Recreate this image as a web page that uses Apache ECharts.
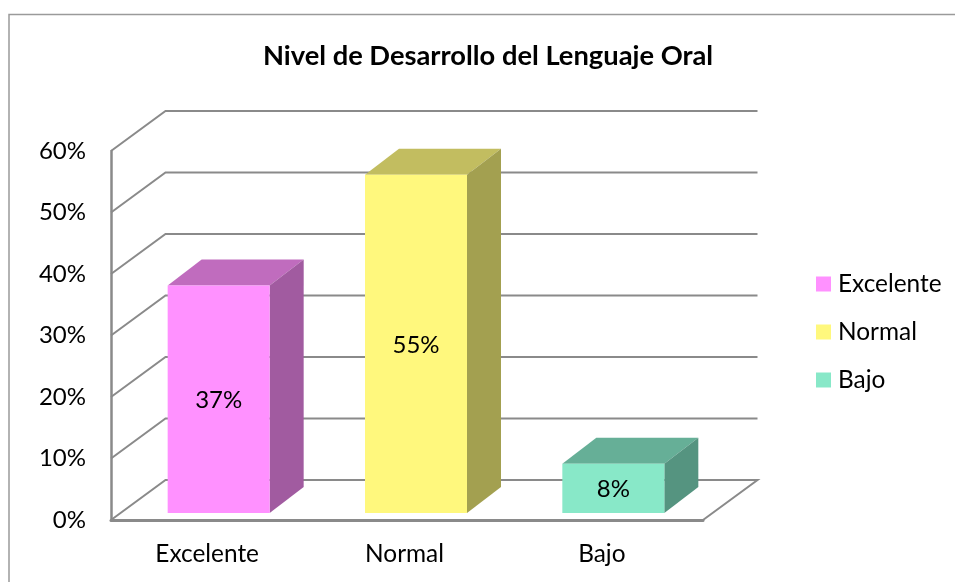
<!DOCTYPE html>
<html>
<head>
<meta charset="utf-8">
<style>html,body{margin:0;padding:0;background:#fff}#main{width:955px;height:582px}</style>
<script src="https://cdn.jsdelivr.net/npm/echarts@6/dist/echarts.min.js"></script>
</head>
<body>
<div id="main"></div>
<script>
var categories = ['Excelente', 'Normal', 'Bajo'];
var values = [37, 55, 8];
var yTicks = [0, 10, 20, 30, 40, 50, 60];

// front, top, side colours for each bar
var frontColors = ['#FF91FF', '#FFF87D', '#88E8C8'];
var topColors = ['#C06CBE', '#C2BD60', '#66AF97'];
var sideColors = ['#A15BA0', '#A3A050', '#559480'];

var FONT = 'Lato';
var LINE = '#8A8A8A';
// depth of the wall and the bars, in pixels
var WALL = [54.5, -40];
var BAR_SIDE = [34, -26];
var BAR_SHIFT = [9, -7];
var BAR_WIDTH = 102;

function renderWall(params, api) {
	var rect = params.coordSys;
	var y = api.coord([0, api.value(0)])[1];
	var x0 = rect.x, x1 = rect.x + rect.width;
	var pts = [[x0, y], [x0 + WALL[0], y + WALL[1]], [x1 + WALL[0], y + WALL[1]]];
	if (api.value(0) === 0) {
		pts.push([x1, y]);
	}
	return {
		type: 'polyline',
		shape: {points: pts},
		style: {stroke: LINE, lineWidth: 2, fill: null}
	};
}

function renderBar(params, api) {
	var idx = api.value(0);
	var top = api.coord([idx, api.value(1)]);
	var base = api.coord([idx, 0]);
	var xl = base[0] - BAR_WIDTH / 2 + BAR_SHIFT[0];
	var xr = xl + BAR_WIDTH;
	var yt = top[1] + BAR_SHIFT[1];
	var yb = base[1] + BAR_SHIFT[1];
	var dx = BAR_SIDE[0], dy = BAR_SIDE[1];
	return {
		type: 'group',
		children: [{
			type: 'polygon',
			shape: {points: [[xl, yt], [xr, yt], [xr + dx, yt + dy], [xl + dx, yt + dy]]},
			style: {fill: topColors[idx]}
		}, {
			type: 'polygon',
			shape: {points: [[xr, yt], [xr + dx, yt + dy], [xr + dx, yb + dy], [xr, yb]]},
			style: {fill: sideColors[idx]}
		}, {
			type: 'rect',
			shape: {x: xl, y: yt, width: BAR_WIDTH, height: yb - yt},
			style: {fill: frontColors[idx]}
		}, {
			type: 'text',
			style: {
				x: (xl + xr) / 2,
				y: (yt + yb) / 2 + 1,
				text: api.value(1) + '%',
				fill: '#000',
				font: '24px ' + FONT,
				align: 'center',
				verticalAlign: 'middle'
			}
		}]
	};
}

var series = [{
	type: 'custom',
	name: 'wall',
	silent: true,
	renderItem: renderWall,
	encode: {y: 0},
	data: yTicks.map(function(v) { return [v]; }),
	z: 1
}];
categories.forEach(function(name, i) {
	series.push({
		type: 'custom',
		name: name,
		renderItem: renderBar,
		itemStyle: {color: frontColors[i]},
		encode: {x: 0, y: 1},
		data: [[i, values[i]]],
		z: 3
	});
});

echarts.init(document.getElementById('main')).setOption({
	animation: false,
	backgroundColor: '#fff',
	title: {
		text: 'Nivel de Desarrollo del Lenguaje Oral',
		left: 483,
		top: 38,
		textAlign: 'center',
		textStyle: {fontFamily: FONT, fontSize: 27.3, fontWeight: 'bold', color: '#000'}
	},
	legend: {
		data: categories,
		orient: 'vertical',
		left: 816,
		top: 270,
		padding: 0,
		icon: 'rect',
		itemWidth: 15,
		itemHeight: 15,
		itemGap: 20,
		selectedMode: false,
		textStyle: {fontFamily: FONT, fontSize: 24.4, color: '#000', padding: [0, 0, 0, 2], lineHeight: 28}
	},
	grid: {left: 111, right: 252, top: 151, bottom: 62},
	xAxis: {
		type: 'category',
		data: categories,
		axisLine: {lineStyle: {color: LINE, width: 3}},
		axisTick: {show: false},
		axisLabel: {fontFamily: FONT, fontSize: 24.4, color: '#000', margin: 22, padding: [0, 5, 0, 0]}
	},
	yAxis: {
		type: 'value',
		min: 0,
		max: 60,
		interval: 10,
		axisLine: {show: true, lineStyle: {color: LINE, width: 2.5}},
		axisTick: {show: false},
		splitLine: {show: false},
		axisLabel: {fontFamily: FONT, fontSize: 24, color: '#000', margin: 25, padding: [9, 0, 0, 0], formatter: '{value}%'}
	},
	graphic: [{
		type: 'rect',
		silent: true,
		shape: {x: 9, y: 14.5, width: 1000, height: 700},
		style: {fill: null, stroke: '#9A9A9A', lineWidth: 1.5},
		z: 0
	}],
	series: series
});
</script>
</body>
</html>
